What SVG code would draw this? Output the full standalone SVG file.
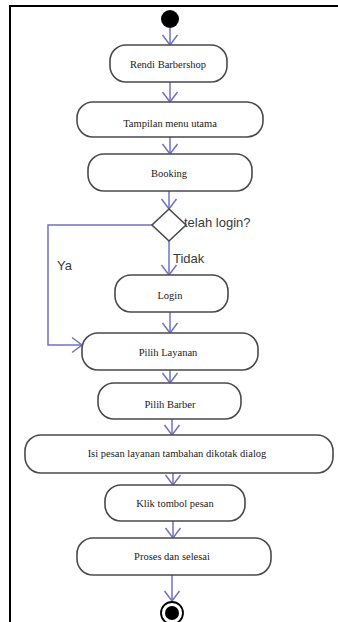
<svg xmlns="http://www.w3.org/2000/svg" width="338" height="622" viewBox="0 0 338 622">
<style>
.node{fill:#fff;stroke:#4a4a4a;stroke-width:1.6}
.lbl{font-family:"Liberation Serif","Times New Roman",serif;font-size:10.5px;fill:#1a1a1a;text-anchor:middle}
.guard{font-family:"Liberation Sans",Arial,sans-serif;font-size:13px;fill:#3a3a3a}
.conn{fill:none;stroke:#7272c4;stroke-width:1.5}
</style>
<defs>
<marker id="arr" viewBox="-1 -9 13 18" refX="10" refY="0" markerWidth="13" markerHeight="18" markerUnits="userSpaceOnUse" orient="auto">
<path d="M0,-7.5 L10,0 L0,7.5" fill="none" stroke="#7272c4" stroke-width="1.5"/>
</marker>
</defs>
<rect width="338" height="622" fill="#fff"/>
<g id="frame">
<path d="M9,6 H338 M10,6 V622" fill="none" stroke="#000" stroke-width="2"/>
</g>
<g id="connectors">
<path class="conn" d="M170,28 V45" marker-end="url(#arr)"/>
<path class="conn" d="M170,82 V102" marker-end="url(#arr)"/>
<path class="conn" d="M170,137 V154" marker-end="url(#arr)"/>
<path class="conn" d="M169,191 V209" marker-end="url(#arr)"/>
<path class="conn" d="M169,241 V275" marker-end="url(#arr)"/>
<path class="conn" d="M170,312 V333" marker-end="url(#arr)"/>
<path class="conn" d="M152,225 H48 V345 H82" marker-end="url(#arr)"/>
<path class="conn" d="M170,370 V383" marker-end="url(#arr)"/>
<path class="conn" d="M172,419 V435" marker-end="url(#arr)"/>
<path class="conn" d="M173,473 V485" marker-end="url(#arr)"/>
<path class="conn" d="M173,521 V538" marker-end="url(#arr)"/>
<path class="conn" d="M172,575 V601" marker-end="url(#arr)"/>
<text class="guard" x="184" y="227">telah login?</text>
<text class="guard" x="173" y="263">Tidak</text>
<text class="guard" x="57" y="270">Ya</text>
</g>
<g id="start"><circle cx="170" cy="19" r="9" fill="#000"/></g>
<g id="n1"><rect class="node" x="110" y="45" width="117" height="37" rx="16"/><text class="lbl" x="168" y="68">Rendi Barbershop</text></g>
<g id="n2"><rect class="node" x="77" y="102" width="186" height="35" rx="16"/><text class="lbl" x="170" y="127">Tampilan menu utama</text></g>
<g id="n3"><rect class="node" x="88" y="154" width="164" height="37" rx="16"/><text class="lbl" x="169" y="177">Booking</text></g>
<g id="decision"><path class="node" d="M169,209 L186,225 L169,241 L152,225 Z"/></g>
<g id="n4"><rect class="node" x="115" y="275" width="113" height="37" rx="16"/><text class="lbl" x="170" y="299">Login</text></g>
<g id="n5"><rect class="node" x="82" y="333" width="176" height="37" rx="16"/><text class="lbl" x="168" y="356">Pilih Layanan</text></g>
<g id="n6"><rect class="node" x="98" y="383" width="143" height="36" rx="16"/><text class="lbl" x="170" y="408">Pilih Barber</text></g>
<g id="n7"><rect class="node" x="25" y="435" width="308" height="38" rx="16"/><text class="lbl" x="177" y="457">Isi pesan layanan tambahan dikotak dialog</text></g>
<g id="n8"><rect class="node" x="105" y="485" width="140" height="36" rx="16"/><text class="lbl" x="175" y="507">Klik tombol pesan</text></g>
<g id="n9"><rect class="node" x="77" y="538" width="194" height="37" rx="16"/><text class="lbl" x="172" y="560">Proses dan selesai</text></g>
<g id="end"><circle cx="172" cy="613" r="11" fill="#fff" stroke="#000" stroke-width="1.8"/><circle cx="172" cy="613" r="7" fill="#000"/></g>
</svg>
